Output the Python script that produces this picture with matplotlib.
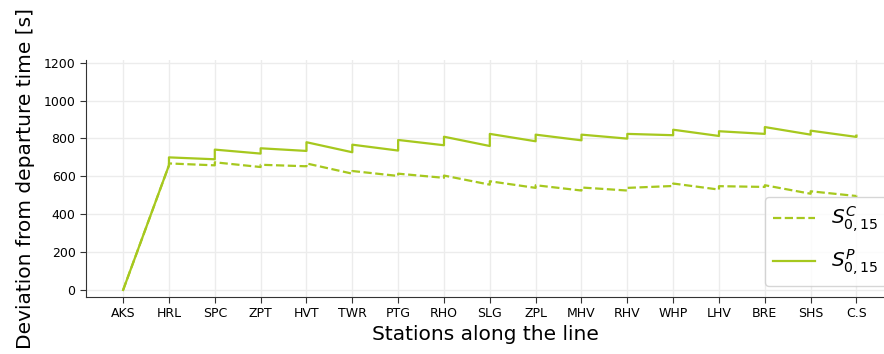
import matplotlib
matplotlib.use("Agg")
import matplotlib.pyplot as plt

stations = ["AKS", "HRL", "SPC", "ZPT", "HVT", "TWR", "PTG", "RHO", "SLG",
            "ZPL", "MHV", "RHV", "WHP", "LHV", "BRE", "SHS", "C.S"]

# arrival / departure deviation [s] at each station (planned, solid)
p_arr = [0, 658, 690, 720, 734, 727, 736, 764, 760, 785, 790, 799, 817, 813, 824, 820, 808]
p_dep = [0, 700, 741, 748, 780, 767, 792, 809, 824, 820, 820, 824, 846, 838, 860, 841, 815]
# (current, dashed)
c_arr = [0, 658, 658, 649, 653, 614, 602, 592, 556, 539, 525, 525, 549, 530, 544, 508, 496]
c_dep = [0, 668, 674, 661, 668, 628, 614, 604, 574, 553, 541, 539, 562, 548, 553, 521, 498]

color = "#a6c81e"

def sawtooth(arr, dep):
    xs, ys = [], []
    for i in range(len(arr)):
        if i == 0:
            xs.append(i); ys.append(dep[i])
        else:
            xs += [i, i]; ys += [arr[i], dep[i]]
    return xs, ys

fig = plt.figure(figsize=(8.84, 3.54), dpi=100)
ax = fig.add_axes([86/884, 57/354, 1 - 86/884, (297-60)/354])

xc, yc = sawtooth(c_arr, c_dep)
xp, yp = sawtooth(p_arr, p_dep)
ax.plot(xc, yc, "--", color=color, lw=1.6, label=r"$S^{C}_{0,15}$")
ax.plot(xp, yp, "-", color=color, lw=1.6, label=r"$S^{P}_{0,15}$")

ax.set_xticks(range(len(stations)))
ax.set_xticklabels(stations)
ax.set_yticks(range(0, 1201, 200))
ax.set_xlim(-0.81, 16.6)
ax.set_ylim(-37, 1214)
ax.grid(True, color="#ececec", lw=1)
ax.set_axisbelow(True)
for s in ["top", "right"]:
    ax.spines[s].set_visible(False)
for s in ["left", "bottom"]:
    ax.spines[s].set_color("#333333")
ax.tick_params(labelsize=9, length=4, color="#333333")
ax.set_xlabel("Stations along the line", fontsize=14.5, labelpad=3)
ax.set_ylabel("Deviation from departure time [s]", fontsize=14.5, labelpad=6)
ax.legend(loc="lower right", fontsize=14.5, bbox_to_anchor=(1.004, 0.046),
          borderaxespad=0, handlelength=2.1, labelspacing=0.65)

fig.savefig("out.png", dpi=100)
